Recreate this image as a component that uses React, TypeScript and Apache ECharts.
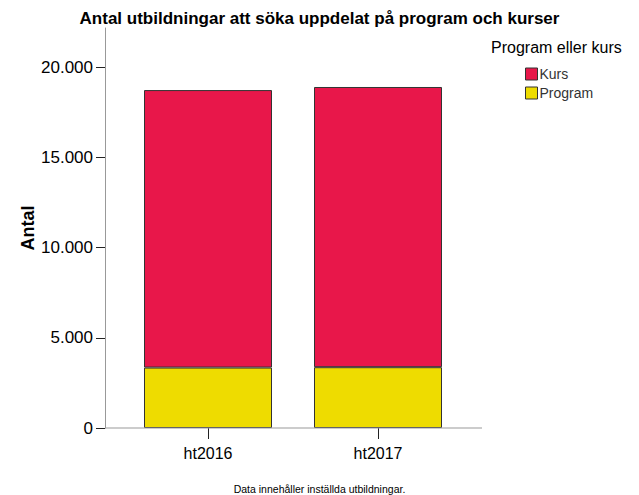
import React, { useEffect, useRef } from "react";
import * as echarts from "echarts";

const categories = ["ht2016", "ht2017"];
const kursValues = [15380, 15530];
const programValues = [3350, 3370];
const yTicks = [0, 5000, 10000, 15000, 20000];
const yMax = 22170;

const FONT = "'Liberation Sans', Arial, sans-serif";

export default function App() {
  const ref = useRef<HTMLDivElement>(null);
  useEffect(() => {
    if (!ref.current) return;
    const chart = echarts.init(ref.current, null, { renderer: "svg" });
    chart.setOption({
      animation: false,
      backgroundColor: "#ffffff",
      textStyle: { fontFamily: FONT },
      title: [
        {
          text: "Antal utbildningar att söka uppdelat på program och kurser",
          left: "center",
          top: 5,
          textStyle: { fontSize: 17, fontWeight: "bold", color: "#000", fontFamily: FONT },
        },
        {
          text: "Program eller kurs",
          left: 486,
          top: 34,
          textStyle: { fontSize: 16, fontWeight: "normal", color: "#000", fontFamily: FONT },
        },
        {
          text: "Data innehåller inställda utbildningar.",
          left: "center",
          top: 478,
          textStyle: { fontSize: 10.5, lineHeight: 12, fontWeight: "normal", color: "#000", fontFamily: FONT },
        },
      ],
      legend: {
        orient: "vertical",
        left: 520,
        top: 62,
        itemWidth: 12,
        itemHeight: 12,
        itemGap: 5,
        icon: "rect",
        data: ["Kurs", "Program"],
        textStyle: { fontSize: 14, color: "#333", fontFamily: FONT, padding: [0, 0, 0, -3] },
        itemStyle: { borderColor: "#333", borderWidth: 1 },
      },
      grid: { left: 123, right: 176, top: 28, bottom: 67, containLabel: false },
      xAxis: {
        type: "category",
        data: categories,
        axisLine: { show: false },
        axisTick: { show: true, alignWithLabel: true, length: 11, lineStyle: { color: "#222" } },
        axisLabel: { fontSize: 16, color: "#000", margin: 17, fontFamily: FONT },
      },
      yAxis: {
        type: "value",
        min: 0,
        max: yMax,
        offset: 18,
        name: "Antal",
        nameLocation: "middle",
        nameRotate: 90,
        nameGap: 68,
        nameMoveOverlap: false,
        nameTextStyle: { fontSize: 18, fontWeight: "bold", color: "#000", fontFamily: FONT },
        axisLine: { show: true, lineStyle: { color: "#999", width: 1 } },
        axisTick: { show: true, length: 9, lineStyle: { color: "#222" }, customValues: yTicks },
        axisLabel: {
          fontSize: 17,
          color: "#000",
          margin: 12,
          fontFamily: FONT,
          customValues: yTicks,
          formatter: (v: number) => (v === 0 ? "0" : v.toLocaleString("de-DE")),
        },
        splitLine: { show: false },
      },
      series: [
        {
          name: "Program",
          type: "bar",
          stack: "total",
          barWidth: 128,
          data: programValues,
          itemStyle: { color: "#EEDC00", borderColor: "#333", borderWidth: 1 },
        },
        {
          name: "Kurs",
          type: "bar",
          stack: "total",
          barWidth: 128,
          data: kursValues,
          itemStyle: { color: "#E8174A", borderColor: "#333", borderWidth: 1 },
        },
      ],
      graphic: [
        {
          type: "line",
          shape: { x1: 105, y1: 428, x2: 482, y2: 428 },
          style: { stroke: "#999", lineWidth: 1 },
          z: 100,
        },
      ],
    });
    return () => chart.dispose();
  }, []);
  return <div ref={ref} style={{ width: 639, height: 495, position: "absolute", left: 0, top: 0 }} />;
}
